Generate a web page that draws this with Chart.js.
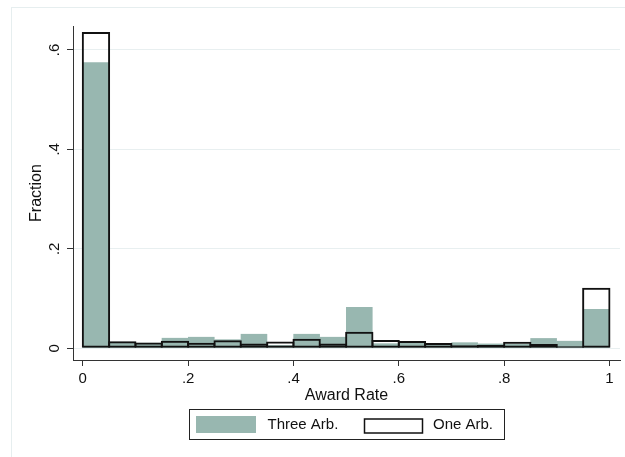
<!DOCTYPE html>
<html>
<head>
<meta charset="utf-8">
<script src="https://cdn.jsdelivr.net/npm/chart.js@4.4.1/dist/chart.umd.min.js"></script>
<style>
  html, body { margin: 0; padding: 0; background: #ffffff; }
  canvas { display: block; }
</style>
</head>
<body>
<canvas id="chart" width="625" height="457"></canvas>
<script>
// Histogram bins (width 0.05) over the award rate, given by their centres
const binCenters = [0.025, 0.075, 0.125, 0.175, 0.225, 0.275, 0.325, 0.375, 0.425, 0.475,
                    0.525, 0.575, 0.625, 0.675, 0.725, 0.775, 0.825, 0.875, 0.925, 0.975];

// Fraction of cases in each bin
const threeArb = [0.575, 0.013, 0.011, 0.021, 0.023, 0.018, 0.029, 0.0065, 0.029, 0.023,
                  0.083, 0.010, 0.014, 0.010, 0.012, 0.0095, 0.0087, 0.0205, 0.015, 0.079];
const oneArb   = [0.636, 0.014, 0.0115, 0.015, 0.011, 0.016, 0.0095, 0.0135, 0.019, 0.0095,
                  0.0334, 0.0167, 0.0147, 0.0107, 0.006, 0.0068, 0.013, 0.0087, 0.0043, 0.122];

const seriesNames = ['Three Arb.', 'One Arb.'];

const xTickValues = [0, 0.2, 0.4, 0.6, 0.8, 1];
const xTickLabels = ['0', '.2', '.4', '.6', '.8', '1'];
const yTickValues = [0, 0.2, 0.4, 0.6];
const yTickLabels = ['0', '.2', '.4', '.6'];

const FONT = "'Liberation Sans', Arial, Helvetica, sans-serif";
const FILL = '#98b7b0';
const LINE = '#111111';
const AXIS = '#333333';
const GRID = '#e8eff0';

const toPoints = (vals) => binCenters.map((x, i) => ({ x: x, y: vals[i] }));

// White page with the light outer frame of the graph region
const framePlugin = {
  id: 'frame',
  beforeDraw(chart) {
    const ctx = chart.ctx;
    ctx.save();
    ctx.fillStyle = '#ffffff';
    ctx.fillRect(0, 0, chart.width, chart.height);
    ctx.strokeStyle = '#e6eeef';
    ctx.lineWidth = 1;
    ctx.strokeRect(11.5, 7.5, chart.width + 20, chart.height + 20);
    ctx.restore();
  }
};

// Vertical tick labels on the y axis
const yLabelPlugin = {
  id: 'yLabels',
  afterDraw(chart) {
    const ctx = chart.ctx;
    const ys = chart.scales.y;
    ctx.save();
    ctx.fillStyle = '#111111';
    ctx.font = '15px ' + FONT;
    ctx.textAlign = 'center';
    ctx.textBaseline = 'middle';
    yTickValues.forEach((v, i) => {
      ctx.save();
      ctx.translate(ys.right - 18, ys.getPixelForValue(v));
      ctx.rotate(-Math.PI / 2);
      ctx.fillText(yTickLabels[i], 0, 0);
      ctx.restore();
    });
    ctx.restore();
  }
};

// Boxed legend under the axis title
const legendPlugin = {
  id: 'boxLegend',
  afterDraw(chart) {
    const ctx = chart.ctx;
    const area = chart.chartArea;
    const three = chart.data.datasets[1];
    const one = chart.data.datasets[0];
    const left = Math.round((area.left + area.right) / 2 - 158) + 0.5;
    const top = 409.5;
    ctx.save();
    ctx.strokeStyle = '#222222';
    ctx.lineWidth = 1;
    ctx.strokeRect(left, top, 315, 30);

    ctx.fillStyle = three.backgroundColor;
    ctx.fillRect(left + 6.5, 416, 60, 17);

    ctx.strokeStyle = one.borderColor;
    ctx.lineWidth = 1.5;
    ctx.strokeRect(left + 175, 419, 58, 14);

    ctx.fillStyle = '#111111';
    ctx.font = '15px ' + FONT;
    ctx.textAlign = 'left';
    ctx.textBaseline = 'middle';
    ctx.fillText(three.label, left + 78, 425);
    ctx.fillText(one.label, left + 243.5, 425);
    ctx.restore();
  }
};

new Chart(document.getElementById('chart'), {
  type: 'bar',
  data: {
    datasets: [
      {
        label: seriesNames[1],
        data: toPoints(oneArb),
        backgroundColor: 'rgba(0,0,0,0)',
        borderColor: LINE,
        borderWidth: 2,
        borderSkipped: false,
        grouped: false,
        categoryPercentage: 1,
        barPercentage: 1.076,
        order: 1
      },
      {
        label: seriesNames[0],
        data: toPoints(threeArb),
        backgroundColor: FILL,
        borderWidth: 0,
        grouped: false,
        categoryPercentage: 1,
        barPercentage: 1.01,
        order: 2
      }
    ]
  },
  options: {
    responsive: false,
    animation: false,
    events: [],
    layout: { padding: { left: 0, top: 26, right: 5, bottom: 50 } },
    plugins: {
      legend: { display: false },
      tooltip: { enabled: false }
    },
    scales: {
      x: {
        type: 'linear',
        offset: false,
        min: -0.0186,
        max: 1.02,
        afterBuildTicks: (s) => { s.ticks = xTickValues.map(v => ({ value: v })); },
        afterFit: (s) => { s.height = 47; },
        ticks: {
          autoSkip: false,
          maxRotation: 0,
          minRotation: 0,
          padding: 4,
          color: '#111111',
          font: { family: FONT, size: 15 },
          callback: (v) => xTickLabels[xTickValues.indexOf(v)]
        },
        grid: {
          display: true,
          offset: false,
          drawOnChartArea: false,
          drawTicks: true,
          tickLength: 6,
          color: 'rgba(0,0,0,0)',
          tickColor: AXIS,
          tickWidth: 1
        },
        border: { display: true, color: AXIS, width: 1 },
        title: {
          display: true,
          text: 'Award Rate',
          color: '#111111',
          font: { family: FONT, size: 16 },
          padding: { top: 0, bottom: 2 }
        }
      },
      y: {
        type: 'linear',
        min: -0.0235,
        max: 0.648,
        afterBuildTicks: (s) => { s.ticks = yTickValues.map(v => ({ value: v })); },
        afterFit: (s) => { s.width = 73; },
        ticks: { display: false },
        grid: {
          display: true,
          drawOnChartArea: true,
          drawTicks: true,
          tickLength: 6,
          color: GRID,
          lineWidth: 1,
          tickColor: AXIS,
          tickWidth: 1
        },
        border: { display: true, color: AXIS, width: 1 },
        title: {
          display: true,
          text: 'Fraction',
          color: '#111111',
          font: { family: FONT, size: 16 },
          padding: { top: 27, bottom: 0 }
        }
      }
    }
  },
  plugins: [framePlugin, yLabelPlugin, legendPlugin]
});
</script>
</body>
</html>
